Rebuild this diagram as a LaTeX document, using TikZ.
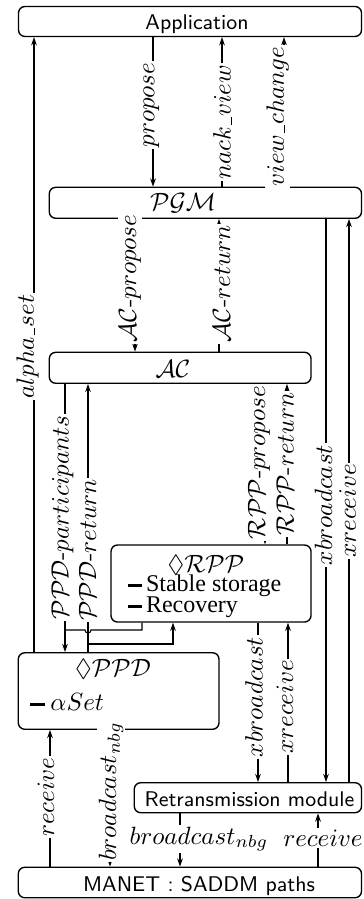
\documentclass[tikz,border=0pt]{standalone}
\usepackage{amssymb}
\usepackage{fontspec}
\newfontfamily\timesf{Liberation Serif}
\usetikzlibrary{arrows.meta}
\newcommand\myus{\mbox{\kern0.06em\rule[-0.5pt]{0.3em}{0.4pt}\kern0.03em}}
\newcommand\mydash{\rule[1.7pt]{5.8pt}{1.15pt}}
\begin{document}
\begin{tikzpicture}[x=0.4pt,y=-0.4pt,
  box/.style={draw, rounded corners=2.6pt, line width=0.55pt, inner sep=0pt},
  con/.style={line width=0.45pt},
  arr/.style={con, -{Stealth[length=3.3pt,width=2.3pt]}},
  lab/.style={rotate=90, fill=white, inner sep=0.6pt},
  hlab/.style={fill=white, inner sep=0.6pt},
  sanst/.style={font=\fontsize{8.5}{10}\sffamily\selectfont, anchor=base, inner sep=0pt},
  serift/.style={font=\timesf\fontsize{9.6}{11}\selectfont, anchor=base west, inner sep=0pt},
]
\useasboundingbox (0,0) rectangle (363,899);

% boxes
\node[box, minimum width=137.2pt, minimum height=12pt]   (app)   at (190,21.5)    {};
\node[box, minimum width=124.9pt, minimum height=12.4pt] (pgm)   at (205.4,202.8) {};
\node[box, minimum width=104.7pt, minimum height=12.4pt] (ac)    at (180.15,367.8) {};
\node[box, minimum width=80pt,    minimum height=30.8pt] (rpp)   at (211,583.5)   {};
\node[box, minimum width=80.3pt,  minimum height=30.6pt] (ppd)   at (118.65,691)  {};
\node[box, minimum width=90.9pt,  minimum height=12pt]   (ret)   at (247.9,797.7) {};
\node[box, minimum width=137.3pt, minimum height=12.2pt] (manet) at (189.9,882.5) {};

% box texts
\node[sanst] (apptxt) at (197,29.3) {Application};
\node (pgmtxt) at (183,203) {$\mathcal{PGM}$};
\node (actxt) at (173,369) {$\mathcal{AC}$};
\node[anchor=base, inner sep=0pt] (rpptxt) at (206,572) {$\Diamond\mathcal{RPP}$};
\node[serift] (rpp1) at (127,591) {\mydash\kern1.6pt Stable storage};
\node[serift] (rpp2) at (127,612.5) {\mydash\kern1.6pt Recovery};
\node[anchor=base, inner sep=0pt] (ppdtxt) at (113,676) {$\Diamond\mathcal{PPD}$};
\node[anchor=base west, inner sep=0pt] (ppd1) at (30,710) {\mydash\kern2.2pt$\alpha Set$};
\node[sanst] (rettxt) at (249.5,806.5) {Retransmission module};
\node[sanst] (mantxt) at (199,891) {MANET : SADDM paths};

% connectors Application <-> PGM
\draw[arr] (ppd.north -| 34,0) -- (app.south -| 34,0);
\draw[arr] (app.south -| 153,0) -- (pgm.north -| 153,0);
\draw[arr] (pgm.north -| 222,0) -- (app.south -| 222,0);
\draw[arr] (pgm.north -| 284,0) -- (app.south -| 284,0);
% PGM <-> AC
\draw[arr] (pgm.south -| 135,0) -- (ac.north -| 135,0);
\draw[arr] (ac.north -| 219,0) -- (pgm.south -| 219,0);
% PGM <-> Retransmission
\draw[arr] (pgm.south -| 326,0) -- (ret.north -| 326,0);
\draw[arr] (ret.north -| 349,0) -- (pgm.south -| 349,0);
% AC <-> PPD
\draw[arr] (ac.south -| 65,0) -- (ppd.north -| 65,0);
\draw[arr] (ppd.north -| 88,0) -- (ac.south -| 88,0);
% AC <-> RPP
\draw[arr] (ac.south -| 265,0) -- (rpp.north -| 265,0);
\draw[arr] (rpp.north -| 287,0) -- (ac.south -| 287,0);
% RPP -> PPD (joins the PPD arrow), with a hop
\coordinate (j1) at (65,630);
\draw[con] (rpp.south -| 142,0) -- (142,630) -- (91,630)
   arc[start angle=0, end angle=180, radius=3] -- (j1);
% PPD -> RPP branch
\coordinate (j2) at (88,644);
\draw[arr] (j2) -- (173,644) -- (rpp.south -| 173,0);
% RPP <-> Retransmission
\draw[arr] (rpp.south -| 258,0) -- (ret.north -| 258,0);
\draw[arr] (ret.north -| 288,0) -- (rpp.south -| 288,0);
% PPD <-> MANET
\draw[arr] (manet.north -| 50,0) -- (ppd.south -| 50,0);
\draw[arr] (ppd.south -| 110,0) -- (manet.north -| 110,0);
% Retransmission <-> MANET
\draw[arr] (ret.south -| 180,0) -- (manet.north -| 180,0);
\draw[arr] (manet.north -| 318,0) -- (ret.south -| 318,0);

% labels
\node[lab] (l1)  at (27.5,346.5) {$alpha\myus set$};
\node[lab] (l2)  at (151.5,105)  {$propose$};
\node[lab] (l3)  at (222.5,122)  {$nack\myus view$};
\node[lab] (l4)  at (277.5,116.5) {$view\myus change$};
\node[lab] (l5)  at (130,278.5)  {$\mathcal{AC}$-$propose$};
\node[lab] (l6)  at (221.5,284)  {$\mathcal{AC}$-$return$};
\node[lab] (l7)  at (62.5,517.5) {$\mathcal{PPD}$-$participants$};
\node[lab] (l8)  at (87.5,550)   {$\mathcal{PPD}$-$return$};
\node[lab] (l9)  at (259,462.5)  {$\mathcal{RPP}$-$propose$};
\node[lab] (l10) at (285,464)    {$\mathcal{RPP}$-$return$};
\node[lab] (l11) at (323.5,505)  {$xbroadcast$};
\node[lab] (l12) at (347.5,511)  {$xreceive$};
\node[lab] (l13) at (254,697)    {$xbroadcast$};
\node[lab] (l14) at (285,707)    {$xreceive$};
\node[lab] (l15) at (46,797)     {$receive$};
\node[lab] (l16) at (111,791.5)  {$broadcast_{nbg}$};
\node[hlab] (l17) at (199,839)   {$broadcast_{nbg}$};
\node[hlab] (l18) at (323,838)   {$receive$};
\end{tikzpicture}
\end{document}
